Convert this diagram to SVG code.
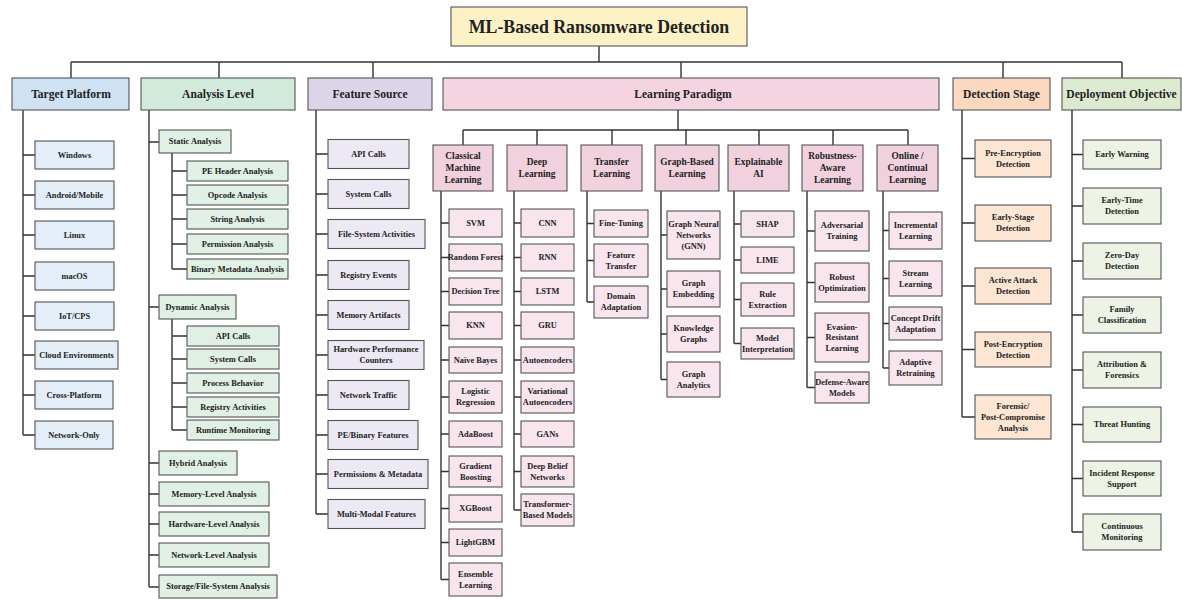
<svg xmlns="http://www.w3.org/2000/svg" width="1182" height="599" viewBox="0 0 1182 599">
<style>
rect{stroke:#555;stroke-width:1.1}
.ln{fill:none;stroke:#333;stroke-width:1.4}
.t{font-family:"Liberation Serif","Times New Roman",serif;font-weight:bold;fill:#222;text-anchor:middle}
.f0{font-size:17.8px}.f1{font-size:11.6px}.f2{font-size:9.4px}.f3{font-size:8.4px}
.root{fill:#fcf2c6}
.tp{fill:#cfe2f3}.tpc{fill:#e3eef9}
.al{fill:#d2eadb}.alc{fill:#e0f0e5}
.fs{fill:#dcd5ea}.fsc{fill:#ece9f4}
.lp{fill:#f4d4e0}.lps{fill:#f0d1dd}.lpc{fill:#f9e5ed}
.ds{fill:#fbd8bf}.dsc{fill:#fce5d3}
.do{fill:#dcebd0}.doc{fill:#edf4e6}
</style>
<rect x="0" y="0" width="1182" height="599" style="fill:#fff;stroke:none"/>
<g id="connectors" class="ln">
<path d="M599,46V62M71,62H1122M71,62V78M219,62V78M373,62V78M681,62V78M1003,62V78M1122,62V78"/>
<path d="M23,110V435M23,155H35M23,195H35M23,235H35M23,276H35M23,316H35M23,355H35M23,395H35M23,435H35"/>
<path d="M149,110V587M149,142H159M149,307H159M149,463H159M149,494H159M149,524H159M149,555H159M149,587H159"/>
<path d="M172,153V269M172,171H187M172,195H187M172,219H187M172,244H187M172,269H187"/>
<path d="M172,319V430M172,336H187M172,359H187M172,383H187M172,407H187M172,430H187"/>
<path d="M316,110V514M316,154H328M316,194H328M316,234H328M316,275H328M316,315H328M316,355H328M316,395H328M316,435H328M316,474H328M316,514H328"/>
<path d="M678,110V130M463,130H908M463,130V145M537,130V145M612,130V145M686,130V145M759,130V145M833,130V145M908,130V145"/>
<path d="M441,191V579.5M441,223H449M441,257.5H449M441,291.5H449M441,325.5H449M441,360H449M441,397H449M441,434H449M441,471.5H449M441,508.5H449M441,542.5H449M441,579.5H449"/>
<path d="M514,191V510M514,223H521M514,257.5H521M514,291.5H521M514,325.5H521M514,360H521M514,397H521M514,434H521M514,471.5H521M514,510H521"/>
<path d="M587,191V302M587,223.5H594M587,260.5H594M587,302H594"/>
<path d="M661,191V379.5M661,235H667M661,289H667M661,334H667M661,379.5H667"/>
<path d="M734,191V343.5M734,224H741M734,260H741M734,299.5H741M734,343.5H741"/>
<path d="M807,191V387.5M807,231H815M807,282.5H815M807,337.5H815M807,387.5H815"/>
<path d="M883,191V368M883,230.5H889M883,278.5H889M883,323.5H889M883,368H889"/>
<path d="M962,110V417M962,158.5H975M962,223H975M962,286H975M962,349.5H975M962,417H975"/>
<path d="M1072,110V532M1072,154.5H1083M1072,206H1083M1072,261H1083M1072,315H1083M1072,370H1083M1072,424.5H1083M1072,478.5H1083M1072,532H1083"/>
</g>
<g id="root"><rect class="root" x="451" y="7" width="296" height="39"/><text class="t f0" x="599" y="32.8">ML-Based Ransomware Detection</text></g>
<g id="target-platform"><rect class="tp" x="12" y="78" width="117" height="32"/><text class="t f1" x="71" y="98">Target Platform</text></g>
<g id="analysis-level"><rect class="al" x="141" y="78" width="154" height="32"/><text class="t f1" x="218" y="98">Analysis Level</text></g>
<g id="feature-source"><rect class="fs" x="308" y="78" width="124" height="32"/><text class="t f1" x="370" y="98">Feature Source</text></g>
<g id="learning-paradigm"><rect class="lp" x="443" y="78" width="496" height="32"/><text class="t f1" x="683" y="98">Learning Paradigm</text></g>
<g id="detection-stage"><rect class="ds" x="953" y="78" width="97" height="32"/><text class="t f1" x="1001.5" y="98">Detection Stage</text></g>
<g id="deployment-objective"><rect class="do" x="1062" y="78" width="119" height="32"/><text class="t f1" x="1121.5" y="98">Deployment Objective</text></g>

<g id="tp-windows"><rect class="tpc" x="35" y="141" width="79" height="28"/><text class="t f3" x="74.5" y="157.8">Windows</text></g>
<g id="tp-android"><rect class="tpc" x="35" y="181" width="79" height="28"/><text class="t f3" x="74.5" y="197.8">Android/Mobile</text></g>
<g id="tp-linux"><rect class="tpc" x="35" y="221" width="79" height="28"/><text class="t f3" x="74.5" y="237.8">Linux</text></g>
<g id="tp-macos"><rect class="tpc" x="35" y="262" width="79" height="28"/><text class="t f3" x="74.5" y="278.8">macOS</text></g>
<g id="tp-iot"><rect class="tpc" x="35" y="302" width="79" height="28"/><text class="t f3" x="74.5" y="318.8">IoT/CPS</text></g>
<g id="tp-cloud"><rect class="tpc" x="35" y="341" width="83" height="28"/><text class="t f3" x="76.5" y="357.8">Cloud Environments</text></g>
<g id="tp-cross"><rect class="tpc" x="35" y="381" width="78" height="28"/><text class="t f3" x="74" y="397.8">Cross-Platform</text></g>
<g id="tp-network"><rect class="tpc" x="35" y="421" width="78" height="28"/><text class="t f3" x="74" y="437.8">Network-Only</text></g>

<g id="al-static"><rect class="alc" x="159" y="130" width="72" height="23"/><text class="t f3" x="195" y="144.3">Static Analysis</text></g>
<g id="al-pe"><rect class="alc" x="187" y="161" width="101" height="20"/><text class="t f3" x="237.5" y="173.8">PE Header Analysis</text></g>
<g id="al-opcode"><rect class="alc" x="187" y="185" width="101" height="20"/><text class="t f3" x="237.5" y="197.8">Opcode Analysis</text></g>
<g id="al-string"><rect class="alc" x="187" y="209" width="101" height="20"/><text class="t f3" x="237.5" y="221.8">String Analysis</text></g>
<g id="al-permission"><rect class="alc" x="187" y="234" width="101" height="20"/><text class="t f3" x="237.5" y="246.8">Permission Analysis</text></g>
<g id="al-binary"><rect class="alc" x="187" y="259" width="101" height="20"/><text class="t f3" x="237.5" y="271.8">Binary Metadata Analysis</text></g>
<g id="al-dynamic"><rect class="alc" x="159" y="295" width="77" height="24"/><text class="t f3" x="197.5" y="309.8">Dynamic Analysis</text></g>
<g id="al-api"><rect class="alc" x="187" y="326" width="92" height="20"/><text class="t f3" x="233" y="338.8">API Calls</text></g>
<g id="al-syscalls"><rect class="alc" x="187" y="349" width="92" height="20"/><text class="t f3" x="233" y="361.8">System Calls</text></g>
<g id="al-process"><rect class="alc" x="187" y="373" width="92" height="20"/><text class="t f3" x="233" y="385.8">Process Behavior</text></g>
<g id="al-registry"><rect class="alc" x="187" y="397" width="92" height="20"/><text class="t f3" x="233" y="409.8">Registry Activities</text></g>
<g id="al-runtime"><rect class="alc" x="187" y="420" width="92" height="20"/><text class="t f3" x="233" y="432.8">Runtime Monitoring</text></g>
<g id="al-hybrid"><rect class="alc" x="159" y="451" width="78" height="24"/><text class="t f3" x="198" y="465.8">Hybrid Analysis</text></g>
<g id="al-memory"><rect class="alc" x="159" y="482" width="110" height="24"/><text class="t f3" x="214" y="496.8">Memory-Level Analysis</text></g>
<g id="al-hardware"><rect class="alc" x="159" y="512" width="110" height="24"/><text class="t f3" x="214" y="526.8">Hardware-Level Analysis</text></g>
<g id="al-network"><rect class="alc" x="159" y="543" width="110" height="24"/><text class="t f3" x="214" y="557.8">Network-Level Analysis</text></g>
<g id="al-storage"><rect class="alc" x="159" y="575" width="118" height="23"/><text class="t f3" x="218" y="589.3">Storage/File-System Analysis</text></g>

<g id="fs-api"><rect class="fsc" x="328" y="139.5" width="81" height="29"/><text class="t f3" x="368.5" y="156.8">API Calls</text></g>
<g id="fs-sys"><rect class="fsc" x="328" y="179.5" width="81" height="29"/><text class="t f3" x="368.5" y="196.8">System Calls</text></g>
<g id="fs-file"><rect class="fsc" x="328" y="219.5" width="97" height="29"/><text class="t f3" x="376.5" y="236.8">File-System Activities</text></g>
<g id="fs-reg"><rect class="fsc" x="328" y="260.5" width="81" height="29"/><text class="t f3" x="368.5" y="277.8">Registry Events</text></g>
<g id="fs-mem"><rect class="fsc" x="328" y="300.5" width="81" height="29"/><text class="t f3" x="368.5" y="317.8">Memory Artifacts</text></g>
<g id="fs-hw"><rect class="fsc" x="328" y="340.5" width="96" height="29"/><text class="t f3" x="376"><tspan x="376" y="352.4">Hardware Performance</tspan><tspan x="376" y="363.2">Counters</tspan></text></g>
<g id="fs-net"><rect class="fsc" x="328" y="380.5" width="81" height="29"/><text class="t f3" x="368.5" y="397.8">Network Traffic</text></g>
<g id="fs-pe"><rect class="fsc" x="328" y="420.5" width="90" height="29"/><text class="t f3" x="373" y="437.8">PE/Binary Features</text></g>
<g id="fs-perm"><rect class="fsc" x="328" y="459.5" width="100" height="29"/><text class="t f3" x="378" y="476.8">Permissions &amp; Metadata</text></g>
<g id="fs-multi"><rect class="fsc" x="328" y="499.5" width="97" height="29"/><text class="t f3" x="376.5" y="516.8">Multi-Modal Features</text></g>

<g id="lp-classical"><rect class="lps" x="433" y="145" width="60" height="46"/><text class="t f2"><tspan x="463" y="159.1">Classical</tspan><tspan x="463" y="171.1">Machine</tspan><tspan x="463" y="183.1">Learning</tspan></text></g>
<g id="lp-deep"><rect class="lps" x="507" y="145" width="60" height="46"/><text class="t f2"><tspan x="537" y="165.1">Deep</tspan><tspan x="537" y="177.1">Learning</tspan></text></g>
<g id="lp-transfer"><rect class="lps" x="581" y="145" width="61" height="46"/><text class="t f2"><tspan x="611.5" y="165.1">Transfer</tspan><tspan x="611.5" y="177.1">Learning</tspan></text></g>
<g id="lp-graph"><rect class="lps" x="655" y="145" width="64" height="46"/><text class="t f2"><tspan x="687" y="165.1">Graph-Based</tspan><tspan x="687" y="177.1">Learning</tspan></text></g>
<g id="lp-xai"><rect class="lps" x="728" y="145" width="61" height="46"/><text class="t f2"><tspan x="758.5" y="165.1">Explainable</tspan><tspan x="758.5" y="177.1">AI</tspan></text></g>
<g id="lp-robust"><rect class="lps" x="802" y="145" width="61" height="46"/><text class="t f2"><tspan x="832.5" y="159.1">Robustness-</tspan><tspan x="832.5" y="171.1">Aware</tspan><tspan x="832.5" y="183.1">Learning</tspan></text></g>
<g id="lp-online"><rect class="lps" x="877" y="145" width="61" height="46"/><text class="t f2"><tspan x="907.5" y="159.1">Online /</tspan><tspan x="907.5" y="171.1">Continual</tspan><tspan x="907.5" y="183.1">Learning</tspan></text></g>

<g id="cml-svm"><rect class="lpc" x="449" y="209" width="53" height="28"/><text class="t f3" x="475.5" y="225.8">SVM</text></g>
<g id="cml-rf"><rect class="lpc" x="449" y="244" width="53" height="27"/><text class="t f3" x="475.5" y="260.3">Random Forest</text></g>
<g id="cml-dt"><rect class="lpc" x="449" y="278" width="53" height="27"/><text class="t f3" x="475.5" y="294.3">Decision Tree</text></g>
<g id="cml-knn"><rect class="lpc" x="449" y="312" width="53" height="27"/><text class="t f3" x="475.5" y="328.3">KNN</text></g>
<g id="cml-nb"><rect class="lpc" x="449" y="347" width="53" height="26"/><text class="t f3" x="475.5" y="362.8">Naïve Bayes</text></g>
<g id="cml-lr"><rect class="lpc" x="449" y="381" width="53" height="32"/><text class="t f3"><tspan x="475.5" y="394.4">Logistic</tspan><tspan x="475.5" y="405.2">Regression</tspan></text></g>
<g id="cml-ada"><rect class="lpc" x="449" y="421" width="53" height="26"/><text class="t f3" x="475.5" y="436.8">AdaBoost</text></g>
<g id="cml-gb"><rect class="lpc" x="449" y="456" width="53" height="31"/><text class="t f3"><tspan x="475.5" y="468.9">Gradient</tspan><tspan x="475.5" y="479.7">Boosting</tspan></text></g>
<g id="cml-xgb"><rect class="lpc" x="449" y="495" width="53" height="27"/><text class="t f3" x="475.5" y="511.3">XGBoost</text></g>
<g id="cml-lgbm"><rect class="lpc" x="449" y="529" width="53" height="27"/><text class="t f3" x="475.5" y="545.3">LightGBM</text></g>
<g id="cml-ens"><rect class="lpc" x="449" y="563" width="53" height="33"/><text class="t f3"><tspan x="475.5" y="576.9">Ensemble</tspan><tspan x="475.5" y="587.7">Learning</tspan></text></g>

<g id="dl-cnn"><rect class="lpc" x="521" y="209" width="53" height="28"/><text class="t f3" x="547.5" y="225.8">CNN</text></g>
<g id="dl-rnn"><rect class="lpc" x="521" y="244" width="53" height="27"/><text class="t f3" x="547.5" y="260.3">RNN</text></g>
<g id="dl-lstm"><rect class="lpc" x="521" y="278" width="53" height="27"/><text class="t f3" x="547.5" y="294.3">LSTM</text></g>
<g id="dl-gru"><rect class="lpc" x="521" y="312" width="53" height="27"/><text class="t f3" x="547.5" y="328.3">GRU</text></g>
<g id="dl-ae"><rect class="lpc" x="521" y="347" width="53" height="26"/><text class="t f3" x="547.5" y="362.8">Autoencoders</text></g>
<g id="dl-vae"><rect class="lpc" x="521" y="381" width="53" height="32"/><text class="t f3"><tspan x="547.5" y="394.4">Variational</tspan><tspan x="547.5" y="405.2">Autoencoders</tspan></text></g>
<g id="dl-gan"><rect class="lpc" x="521" y="421" width="53" height="26"/><text class="t f3" x="547.5" y="436.8">GANs</text></g>
<g id="dl-dbn"><rect class="lpc" x="521" y="456" width="53" height="31"/><text class="t f3"><tspan x="547.5" y="468.9">Deep Belief</tspan><tspan x="547.5" y="479.7">Networks</tspan></text></g>
<g id="dl-tf"><rect class="lpc" x="521" y="494" width="53" height="32"/><text class="t f3"><tspan x="547.5" y="507.4">Transformer-</tspan><tspan x="547.5" y="518.2">Based Models</tspan></text></g>

<g id="tl-fine"><rect class="lpc" x="594" y="210" width="54" height="27"/><text class="t f3" x="621" y="226.3">Fine-Tuning</text></g>
<g id="tl-feature"><rect class="lpc" x="594" y="244" width="54" height="33"/><text class="t f3"><tspan x="621" y="257.9">Feature</tspan><tspan x="621" y="268.7">Transfer</tspan></text></g>
<g id="tl-domain"><rect class="lpc" x="594" y="286" width="54" height="32"/><text class="t f3"><tspan x="621" y="299.4">Domain</tspan><tspan x="621" y="310.2">Adaptation</tspan></text></g>

<g id="gb-gnn"><rect class="lpc" x="667" y="211" width="53" height="48"/><text class="t f3"><tspan x="693.5" y="227">Graph Neural</tspan><tspan x="693.5" y="237.8">Networks</tspan><tspan x="693.5" y="248.6">(GNN)</tspan></text></g>
<g id="gb-emb"><rect class="lpc" x="667" y="271" width="53" height="36"/><text class="t f3"><tspan x="693.5" y="286.4">Graph</tspan><tspan x="693.5" y="297.2">Embedding</tspan></text></g>
<g id="gb-kg"><rect class="lpc" x="667" y="316" width="53" height="36"/><text class="t f3"><tspan x="693.5" y="331.4">Knowledge</tspan><tspan x="693.5" y="342.2">Graphs</tspan></text></g>
<g id="gb-ga"><rect class="lpc" x="667" y="362" width="53" height="35"/><text class="t f3"><tspan x="693.5" y="376.9">Graph</tspan><tspan x="693.5" y="387.7">Analytics</tspan></text></g>

<g id="xai-shap"><rect class="lpc" x="741" y="211" width="53" height="26"/><text class="t f3" x="767.5" y="226.8">SHAP</text></g>
<g id="xai-lime"><rect class="lpc" x="741" y="247" width="53" height="26"/><text class="t f3" x="767.5" y="262.8">LIME</text></g>
<g id="xai-rule"><rect class="lpc" x="741" y="283" width="53" height="33"/><text class="t f3"><tspan x="767.5" y="296.9">Rule</tspan><tspan x="767.5" y="307.7">Extraction</tspan></text></g>
<g id="xai-model"><rect class="lpc" x="741" y="328" width="53" height="31"/><text class="t f3"><tspan x="767.5" y="340.9">Model</tspan><tspan x="767.5" y="351.7">Interpretation</tspan></text></g>

<g id="ra-adv"><rect class="lpc" x="815" y="211" width="54" height="40"/><text class="t f3"><tspan x="842" y="228.4">Adversarial</tspan><tspan x="842" y="239.2">Training</tspan></text></g>
<g id="ra-ro"><rect class="lpc" x="815" y="263" width="54" height="39"/><text class="t f3"><tspan x="842" y="279.9">Robust</tspan><tspan x="842" y="290.7">Optimization</tspan></text></g>
<g id="ra-evasion"><rect class="lpc" x="815" y="313" width="54" height="49"/><text class="t f3"><tspan x="842" y="329.5">Evasion-</tspan><tspan x="842" y="340.3">Resistant</tspan><tspan x="842" y="351.1">Learning</tspan></text></g>
<g id="ra-defense"><rect class="lpc" x="815" y="372" width="54" height="31"/><text class="t f3"><tspan x="842" y="384.9">Defense-Aware</tspan><tspan x="842" y="395.7">Models</tspan></text></g>

<g id="oc-inc"><rect class="lpc" x="889" y="212" width="53" height="37"/><text class="t f3"><tspan x="915.5" y="227.9">Incremental</tspan><tspan x="915.5" y="238.7">Learning</tspan></text></g>
<g id="oc-stream"><rect class="lpc" x="889" y="261" width="53" height="35"/><text class="t f3"><tspan x="915.5" y="275.9">Stream</tspan><tspan x="915.5" y="286.7">Learning</tspan></text></g>
<g id="oc-drift"><rect class="lpc" x="889" y="307" width="53" height="33"/><text class="t f3"><tspan x="915.5" y="320.9">Concept Drift</tspan><tspan x="915.5" y="331.7">Adaptation</tspan></text></g>
<g id="oc-adaptive"><rect class="lpc" x="889" y="351" width="53" height="34"/><text class="t f3"><tspan x="915.5" y="365.4">Adaptive</tspan><tspan x="915.5" y="376.2">Retraining</tspan></text></g>

<g id="ds-pre"><rect class="dsc" x="975" y="140" width="76" height="37"/><text class="t f3"><tspan x="1013" y="155.9">Pre-Encryption</tspan><tspan x="1013" y="166.7">Detection</tspan></text></g>
<g id="ds-early"><rect class="dsc" x="975" y="205" width="76" height="36"/><text class="t f3"><tspan x="1013" y="220.4">Early-Stage</tspan><tspan x="1013" y="231.2">Detection</tspan></text></g>
<g id="ds-active"><rect class="dsc" x="975" y="268" width="76" height="36"/><text class="t f3"><tspan x="1013" y="283.4">Active Attack</tspan><tspan x="1013" y="294.2">Detection</tspan></text></g>
<g id="ds-post"><rect class="dsc" x="975" y="332" width="76" height="35"/><text class="t f3"><tspan x="1013" y="346.9">Post-Encryption</tspan><tspan x="1013" y="357.7">Detection</tspan></text></g>
<g id="ds-forensic"><rect class="dsc" x="975" y="395" width="76" height="44"/><text class="t f3"><tspan x="1013" y="409">Forensic/</tspan><tspan x="1013" y="419.8">Post-Compromise</tspan><tspan x="1013" y="430.6">Analysis</tspan></text></g>

<g id="do-ew"><rect class="doc" x="1083" y="140" width="78" height="29"/><text class="t f3" x="1122" y="157.3">Early Warning</text></g>
<g id="do-etd"><rect class="doc" x="1083" y="188" width="78" height="36"/><text class="t f3"><tspan x="1122" y="203.4">Early-Time</tspan><tspan x="1122" y="214.2">Detection</tspan></text></g>
<g id="do-zd"><rect class="doc" x="1083" y="243" width="78" height="36"/><text class="t f3"><tspan x="1122" y="258.4">Zero-Day</tspan><tspan x="1122" y="269.2">Detection</tspan></text></g>
<g id="do-fc"><rect class="doc" x="1083" y="297" width="78" height="36"/><text class="t f3"><tspan x="1122" y="312.4">Family</tspan><tspan x="1122" y="323.2">Classification</tspan></text></g>
<g id="do-af"><rect class="doc" x="1083" y="352" width="78" height="36"/><text class="t f3"><tspan x="1122" y="367.4">Attribution &amp;</tspan><tspan x="1122" y="378.2">Forensics</tspan></text></g>
<g id="do-th"><rect class="doc" x="1083" y="407" width="78" height="35"/><text class="t f3" x="1122" y="427.3">Threat Hunting</text></g>
<g id="do-ir"><rect class="doc" x="1083" y="461" width="78" height="35"/><text class="t f3"><tspan x="1122" y="475.9">Incident Response</tspan><tspan x="1122" y="486.7">Support</tspan></text></g>
<g id="do-cm"><rect class="doc" x="1083" y="514" width="78" height="36"/><text class="t f3"><tspan x="1122" y="529.4">Continuous</tspan><tspan x="1122" y="540.2">Monitoring</tspan></text></g>
</svg>
